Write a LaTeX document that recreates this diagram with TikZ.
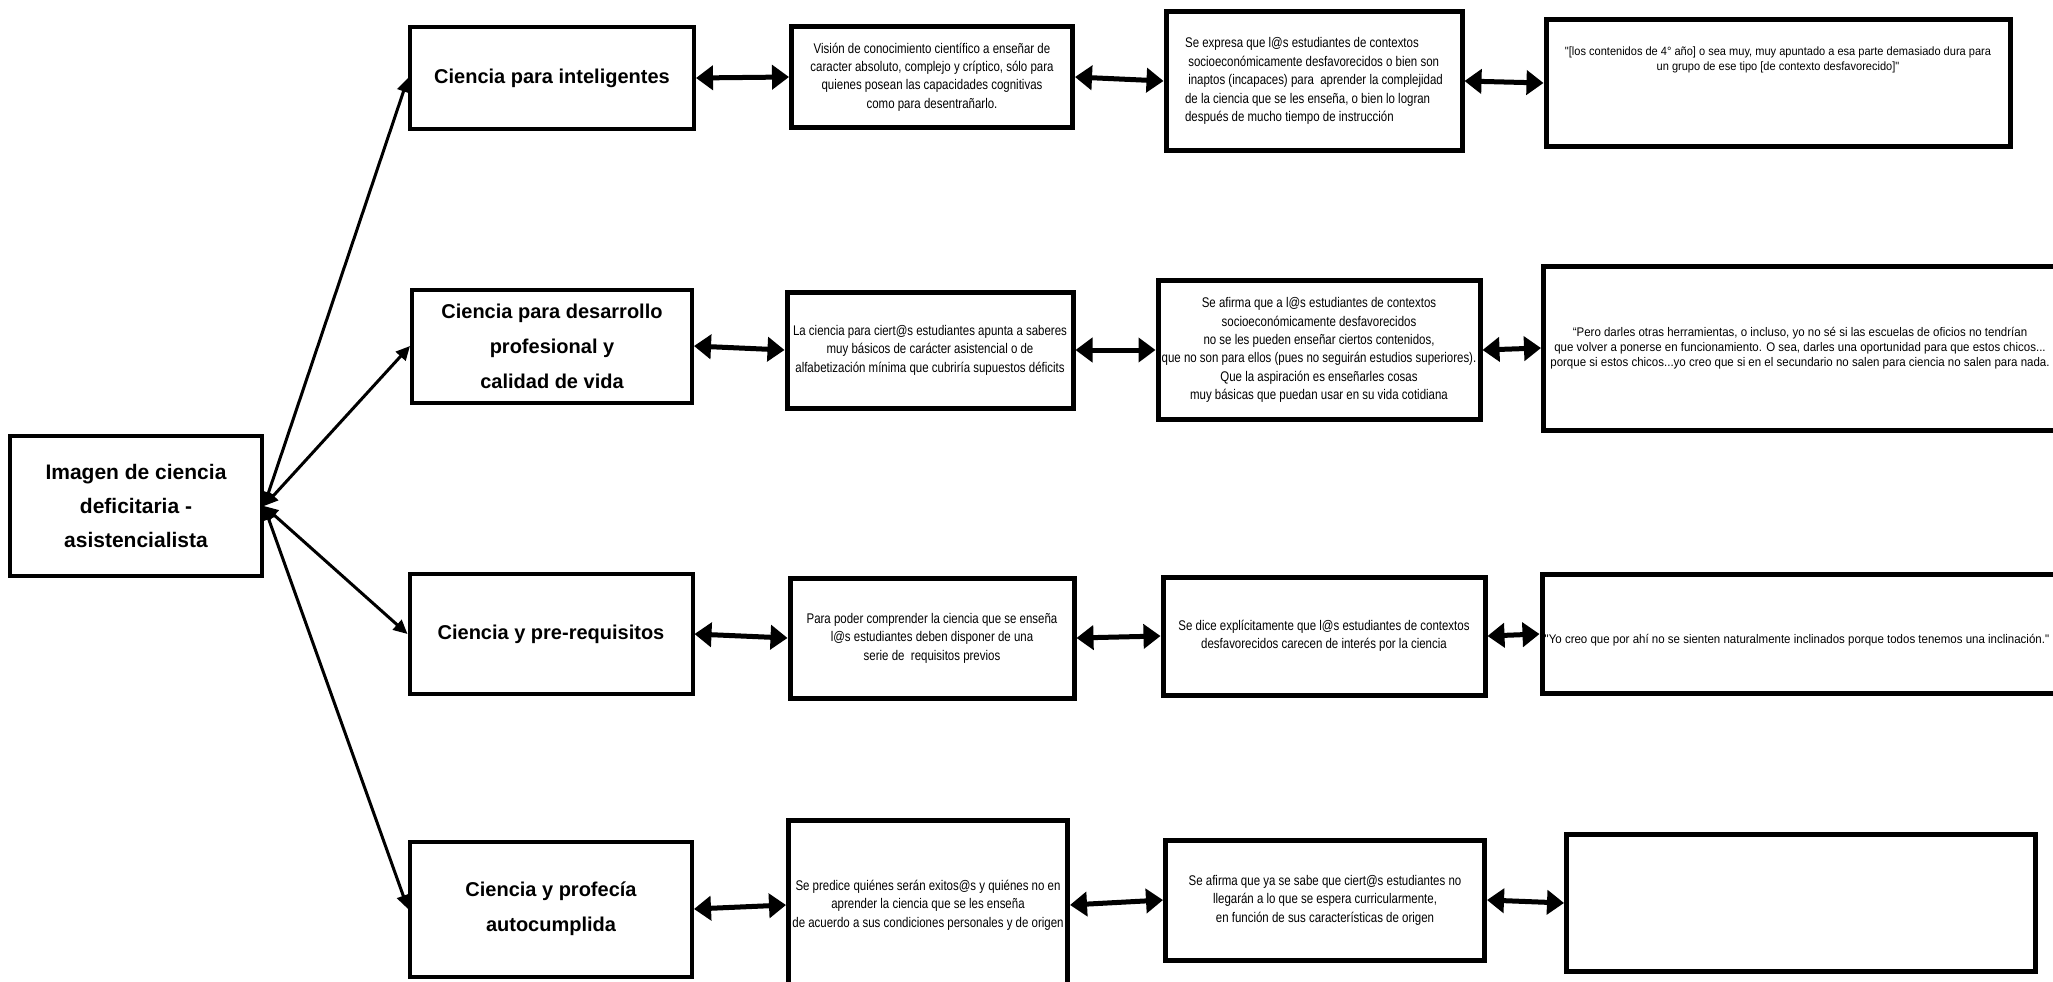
\documentclass[tikz,border=0pt]{standalone}
\usepackage{fontspec}
\setmainfont{Liberation Sans}
\newfontfamily\narrowfont[FakeStretch=0.82]{Liberation Sans}
\newfontfamily\quotefont[FakeStretch=0.92]{Liberation Sans}
\usepackage{tikz}
\usetikzlibrary{arrows.meta,positioning}

\begin{document}
\begin{tikzpicture}[
  x=1pt, y=-1pt,
  rootbox/.style={draw, line width=4pt, inner sep=0pt, align=center,
    font=\fontsize{21}{34}\selectfont\bfseries},
  catbox/.style={draw, line width=4pt, inner sep=0pt, align=center,
    font=\fontsize{20}{35}\selectfont\bfseries},
  descbox/.style={draw, line width=5pt, inner sep=0pt, align=center,
    font=\narrowfont\fontsize{14}{18.4}\selectfont},
  quotebox/.style={draw, line width=5pt, inner sep=0pt, align=center,
    font=\quotefont\fontsize{12.5}{15}\selectfont},
  quotetext/.style={align=center, font=\quotefont\fontsize{12}{15}\selectfont},
  link/.style={line width=5pt,
    {Triangle[length=17pt,width=24pt]}-{Triangle[length=17pt,width=24pt]}},
  fan/.style={line width=3pt,
    {Triangle[length=14pt,width=13pt]}-{Triangle[length=14pt,width=13pt]}}
]
\useasboundingbox (0,0) rectangle (2053,982);

% ==================== Nodo raíz ====================
\node (root) [rootbox, minimum width=252pt, minimum height=140pt] at (136,506)
  {Imagen de ciencia\\deficitaria -\\asistencialista};

% ==================== Columna 1: categorías ====================
\node (cat1) [catbox, minimum width=284pt, minimum height=102pt] at (552,78)
  {Ciencia para inteligentes};
\node (cat2) [catbox, minimum width=280pt, minimum height=113pt] at (552,346)
  {Ciencia para desarrollo\\profesional y\\calidad de vida};
\node (cat3) [catbox, minimum width=283pt, minimum height=120pt] at (551,634)
  {Ciencia y pre-requisitos};
\node (cat4) [catbox, minimum width=282pt, minimum height=135pt] at (551,909)
  {Ciencia y profecía\\autocumplida};

% ==================== Columna 2: visiones ====================
\node (vis1) [descbox, minimum width=281pt, minimum height=101pt] at (932,77)
  {Visión de conocimiento científico a enseñar de\\caracter absoluto, complejo y críptico, sólo para\\quienes posean las capacidades cognitivas\\como para desentrañarlo.};
\node (vis2) [descbox, minimum width=286pt, minimum height=116pt] at (930,350)
  {La ciencia para ciert@s estudiantes apunta a saberes\\muy básicos de carácter asistencial o de\\alfabetización mínima que cubriría supuestos déficits};
\node (vis3) [descbox, minimum width=284pt, minimum height=120pt] at (932,638)
  {Para poder comprender la ciencia que se enseña\\l@s estudiantes deben disponer de una\\serie de \ requisitos previos};
\node (vis4) [descbox, minimum width=279pt, minimum height=170pt] at (928,905)
  {Se predice quiénes serán exitos@s y quiénes no en\\aprender la ciencia que se les enseña\\de acuerdo a sus condiciones personales y de origen};

% ==================== Columna 3: afirmaciones ====================
\node (afi1) [descbox, align=left, minimum width=296pt, minimum height=138pt] at (1314,81)
  {Se expresa que l@s estudiantes de contextos\\
   \ socioeconómicamente desfavorecidos o bien son\\
   \ inaptos (incapaces) para \ aprender la complejidad\\
   de la ciencia que se les enseña, o bien lo logran\\
   después de mucho tiempo de instrucción};
\node (afi2) [descbox, minimum width=322pt, minimum height=139pt] at (1319,350)
  {Se afirma que a l@s estudiantes de contextos\\socioeconómicamente desfavorecidos\\no se les pueden enseñar ciertos contenidos,\\que no son para ellos (pues no seguirán estudios superiores).\\Que la aspiración es enseñarles cosas\\muy básicas que puedan usar en su vida cotidiana};
\node (afi3) [descbox, minimum width=322pt, minimum height=118pt] at (1324,636)
  {Se dice explícitamente que l@s estudiantes de contextos\\desfavorecidos carecen de interés por la ciencia};
\node (afi4) [descbox, minimum width=319pt, minimum height=120pt] at (1325,900)
  {Se afirma que ya se sabe que ciert@s estudiantes no\\llegarán a lo que se espera curricularmente,\\en función de sus características de origen};

% ==================== Columna 4: citas ====================
\node (cit1) [quotebox, minimum width=464pt, minimum height=126pt] at (1778,83) {};
\node (cit1t) [quotetext, below=26pt of cit1.north]
  {"[los contenidos de 4° año] o sea muy, muy apuntado a esa parte demasiado dura para\\un grupo de ese tipo [de contexto desfavorecido]"};
\node (cit2) [quotebox, minimum width=513pt, minimum height=164pt] at (1800,348)
  {“Pero darles otras herramientas, o incluso, yo no sé si las escuelas de oficios no tendrían\\que volver a ponerse en funcionamiento. O sea, darles una oportunidad para que estos chicos...\\porque si estos chicos...yo creo que si en el secundario no salen para ciencia no salen para nada.};
\node (cit3) [quotebox, minimum width=530pt, minimum height=119pt] at (1807,634) {};
\node (cit3t) [quotetext, font=\quotefont\fontsize{12.5}{15}\selectfont,
  anchor=west, inner sep=0pt] at ([xshift=5pt, yshift=-6pt]cit3.west)
  {"Yo creo que por ahí no se sienten naturalmente inclinados porque todos tenemos una inclinación."};
\node (cit4) [quotebox, minimum width=469pt, minimum height=137pt] at (1801,903) {};

% ==================== Conectores ====================
\foreach \c in {cat1,cat2,cat3,cat4}
  \draw[fan] (root.east) -- (\c.west);

\draw[link] (cat1.east) -- (vis1.west);
\draw[link] (cat2.east) -- (vis2.west);
\draw[link] (cat3.east) -- (vis3.west);
\draw[link] (cat4.east) -- (vis4.west);

\draw[link] (vis1.east) -- (afi1.west);
\draw[link] (vis2.east) -- (afi2.west);
\draw[link] (vis3.east) -- (afi3.west);
\draw[link] (vis4.east) -- (afi4.west);

\draw[link] (afi1.east) -- (cit1.west);
\draw[link] (afi2.east) -- (cit2.west);
\draw[link] (afi3.east) -- (cit3.west);
\draw[link] (afi4.east) -- (cit4.west);

\end{tikzpicture}
\end{document}
